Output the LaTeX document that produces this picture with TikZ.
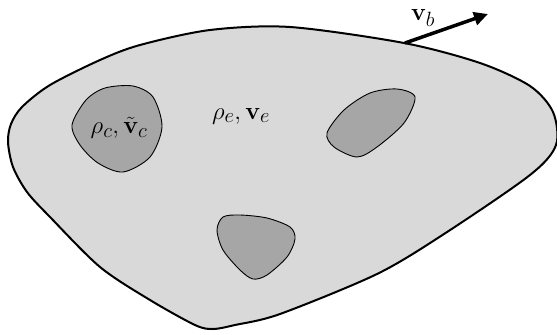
\documentclass[tikz,border=0pt]{standalone}
\usepackage{amsmath}
\usepackage{amssymb}
\usetikzlibrary{arrows.meta}
\definecolor{bodygray}{gray}{0.85}
\definecolor{inclgray}{gray}{0.65}

\begin{document}
\begin{tikzpicture}[x=1bp, y=-1bp,
      body/.style={draw=black, line width=2bp, fill=bodygray},
      incl/.style={draw=black, line width=0.9bp, fill=inclgray},
      lbl/.style={font=\fontsize{24.88}{30}\selectfont, inner sep=0pt},
      vel/.style={-{Triangle[length=14bp, width=13bp]}, line width=3.5bp},
    ]
    \clip (0,0) rectangle (557,334);
    % Body with its boundary
    \draw [body] plot [smooth cycle] coordinates {(8,142) (11,124) (22,107) (50,85) (100,60) (140,45) (210,30) (290,27) (404,43) (480,63) (530,86) (553,112) (556,145) (530,175) (444,234) (377,274) (280,314) (235,325) (213,329) (195,325) (150,300) (100,267) (50,217) (27,192) (13,167)};
    % Inclusions
    \draw [incl] plot [smooth cycle] coordinates {(72,125) (86,100) (105,88) (133,86) (153,97) (162,127) (150,157) (123,172) (98,163) (80,145)};
    \draw [incl] plot [smooth cycle] coordinates {(397,89) (415,97) (404,123) (377,147) (357,157) (334,147) (327,133) (344,110) (370,93)};
    \draw [incl] plot [smooth cycle] coordinates {(217,230) (223,217) (240,215) (267,218) (290,227) (295,239) (287,257) (267,275) (253,279) (240,270) (223,250)};
    % Labels
    \node [lbl] (rhoc) at (119,128) {$\rho_c,\tilde{\mathbf{v}}_c$};
    \node [lbl] (rhoe) at (241,116) {$\rho_e,\mathbf{v}_e$};
    % Boundary velocity
    \coordinate (vbase) at (405,43);
    \coordinate (vtip) at (488,14);
    \draw [vel] (vbase) -- (vtip);
    \node [lbl] (vb) at (423,18) {$\mathbf{v}_b$};
  \end{tikzpicture}
\end{document}
